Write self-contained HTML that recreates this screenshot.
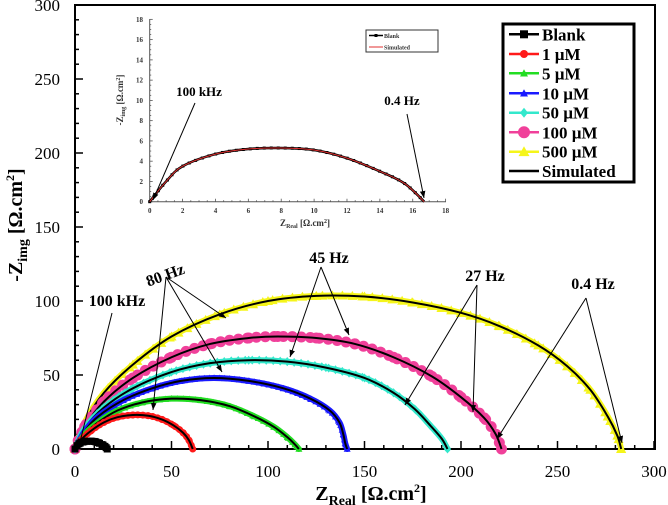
<!DOCTYPE html>
<html><head><meta charset="utf-8"><style>
html,body{margin:0;padding:0;background:#fff}
svg{display:block;font-family:"Liberation Serif",serif}
</style></head><body>
<svg id="chart" width="668" height="505" viewBox="0 0 668 505" xmlns="http://www.w3.org/2000/svg">
<rect x="0" y="0" width="668" height="505" fill="#fff"/>
<g id="plot"></g>
</svg>
<script>
const seriesNames = ["Blank","1 µM","5 µM","10 µM","50 µM","100 µM","500 µM"];
const seriesColors = ["#000000","#ff1a1a","#22dd22","#1a1aff","#33e8cc","#f0409a","#f5f51a"];
const blankData = [[0,0],[1,2],[2,3.5],[4,4.7],[6,5.2],[8,5.3],[10,5.1],[12,4.3],[14,3],[15.5,1.8],[16.7,0]];
const data1uM = [[0,0],[3,6],[8,12],[15,18],[22,21.5],[30,23],[38,22.5],[45,20],[51,16],[56,11],[59,6],[61,0]];
const data5uM = [[0,0],[5,10],[12,18],[22,26],[35,31.5],[50,34],[65,33],[80,29],[93,22],[103,15],[110,8],[114,3],[116,0]];
const data10uM = [[0,0],[5,12],[12,22],[25,33],[40,41],[55,46],[72,48],[90,46],[108,41],[122,34],[132,26],[137,18],[139,10],[140,4],[141,0]];
const data50uM = [[0,0],[5,14],[15,28],[30,41],[50,52],[70,58],[90,60],[110,59],[130,55],[150,48],[165,38],[176,27],[184,16],[190,7],[193,0]];
const data100uM = [[0,0],[5,15],[15,32],[30,48],[50,62],[70,71],[90,75],[105,76],[125,75],[145,71],[165,62],[185,49],[200,35],[212,21],[218,10],[221,0]];
const data500uM = [[0,0],[5,18],[15,38],[30,57],[50,76],[75,91],[100,100],[125,103.5],[150,103],[175,99],[200,92],[220,83],[240,70],[255,56],[267,40],[276,22],[281,9],[283,0]];
const xTicks = [0,50,100,150,200,250,300];
const yTicks = [0,50,100,150,200,250,300];
const insetTicks = [0,2,4,6,8,10,12,14,16,18];

const NS="http://www.w3.org/2000/svg";
const root=document.getElementById('plot');
function mk(tag,attrs,parent){const e=document.createElementNS(NS,tag);for(const k in attrs)e.setAttribute(k,attrs[k]);(parent||root).appendChild(e);return e;}
const X=v=>75+v*1.93;
const Y=v=>449-v*1.48;
const IX=v=>149.7+v*16.44;
const IY=v=>201.7-v*10.13;
function smooth(pts,fx,fy){
  const p=pts.map(d=>[fx(d[0]),fy(d[1])]);
  let s="M"+p[0][0]+","+p[0][1];
  for(let i=0;i<p.length-1;i++){
    const p0=p[Math.max(0,i-1)],p1=p[i],p2=p[i+1],p3=p[Math.min(p.length-1,i+2)];
    const c1=[p1[0]+(p2[0]-p0[0])/6,p1[1]+(p2[1]-p0[1])/6];
    const c2=[p2[0]-(p3[0]-p1[0])/6,p2[1]-(p3[1]-p1[1])/6];
    s+=" C"+c1+" "+c2+" "+p2;
  }
  return s;
}
function marker(shape,x,y,color,r,parent){
  let e;
  if(shape==="square")e=mk('rect',{x:x-r,y:y-r,width:2*r,height:2*r,fill:color},parent);
  else if(shape==="circle")e=mk('circle',{cx:x,cy:y,r:r,fill:color},parent);
  else if(shape==="triangle")e=mk('polygon',{points:`${x},${y-r} ${x-r},${y+r*0.8} ${x+r},${y+r*0.8}`,fill:color},parent);
  else e=mk('polygon',{points:`${x},${y-r} ${x+r*0.8},${y} ${x},${y+r} ${x-r*0.8},${y}`,fill:color},parent);
  return e;
}

// axes frame
const frame=mk('rect',{x:75,y:5,width:580,height:444,fill:"none",stroke:"#000","stroke-width":2});


for(let v=0;v<=300;v+=10){
  const major=v%50===0;
  const tx=mk('line',{x1:X(v),y1:449,x2:X(v),y2:449-(major?8:4),stroke:"#000","stroke-width":1.5});
  
  
  const ty=mk('line',{x1:75,y1:Y(v),x2:75+(major?8:4),y2:Y(v),stroke:"#000","stroke-width":1.5});
  
  
}
xTicks.forEach(v=>{
  const t=mk('text',{x:X(v),y:477,"text-anchor":"middle","font-size":17});
  t.textContent=v;
  
  
});
yTicks.forEach(v=>{
  const t=mk('text',{x:60,y:Y(v)+6,"text-anchor":"end","font-size":17});
  t.textContent=v;
  
  
});
const xt=mk('text',{x:371,y:500,"text-anchor":"middle","font-size":20,"font-weight":"bold"});
xt.innerHTML='Z<tspan font-size="14" dy="5">Real</tspan><tspan dy="-5"> [Ω.cm</tspan><tspan font-size="12" dy="-8">2</tspan><tspan dy="8">]</tspan>';


const yt=mk('text',{x:0,y:0,"text-anchor":"middle","font-size":20,"font-weight":"bold",transform:"translate(22,225) rotate(-90)"});
yt.innerHTML='-Z<tspan font-size="14" dy="5">img</tspan><tspan dy="-5"> [Ω.cm</tspan><tspan font-size="12" dy="-8">2</tspan><tspan dy="8">]</tspan>';



// series
const allData=[blankData,data1uM,data5uM,data10uM,data50uM,data100uM,data500uM];
const shapes=["square","circle","triangle","triangle","diamond","circle","triangle"];
const sizes=[3.5,3.5,3.5,3.5,4.5,5.5,5];
const spacing=[4,5,6,5,7,9,10];
for(let i=allData.length-1;i>=0;i--){
  const g=mk('g',{});
  
  
  const band=mk('path',{d:smooth(allData[i],X,Y),fill:"none",stroke:seriesColors[i],"stroke-width":6,"stroke-linecap":"round"},g);
  
  
  const len=band.getTotalLength();
  for(let s=0;s<=len;s+=spacing[i]){
    const pt=band.getPointAtLength(s);
    const m=marker(shapes[i],pt.x,pt.y,seriesColors[i],sizes[i],g);
    
    
  }
  allData[i].forEach(d=>{
    const m=marker(shapes[i],X(d[0]),Y(d[1]),seriesColors[i],sizes[i],g);
    
    
  });
  const fit=mk('path',{d:smooth(allData[i],X,Y),fill:"none",stroke:"#000","stroke-width":2},g);
  
  
}

mk('defs',{}).innerHTML='<marker id="ah" viewBox="0 0 10 10" refX="10" refY="5" markerWidth="7" markerHeight="7" orient="auto-start-reverse"><path d="M0,1 L10,5 L0,9 z" fill="#000"/></marker>';
function annot(label,tx,ty,rot,fs,arrows,name){
  const t=mk('text',{x:tx,y:ty,"text-anchor":"middle","font-size":fs,"font-weight":"bold",transform:rot?`rotate(${rot} ${tx} ${ty})`:""});
  t.textContent=label;
  
  
  arrows.forEach(a=>{
    const l=mk('line',{x1:a[0],y1:a[1],x2:a[2],y2:a[3],stroke:"#000","stroke-width":1,"marker-end":"url(#ah)"});
    
    
  });
}
annot("100 kHz",117,306,0,16,[[112,313,79,446]],"label-100khz");
annot("80 Hz",167,280,-20,16,[[166,277,226,318],[166,277,222,372],[166,277,153,410]],"label-80hz");
annot("45 Hz",329,263,0,16,[[321,267,349,335],[321,267,290,357]],"label-45hz");
annot("27 Hz",485,281,0,16,[[477,285,405,405],[477,285,473,412]],"label-27hz");
annot("0.4 Hz",593,289,0,16,[[586,298,497,439],[586,298,622,443]],"label-04hz");

// legend
const lg=mk('g',{});


mk('rect',{x:503,y:24,width:131,height:158,fill:"#fff",stroke:"#000","stroke-width":3},lg);
const legY=[34.3,54,73.3,93.3,112.7,132.3,151.7,171];
seriesNames.concat(["Simulated"]).forEach((n,i)=>{
  const e=mk('g',{},lg);
  
  
  const c=i<7?seriesColors[i]:"#000";
  mk('line',{x1:509,y1:legY[i],x2:539,y2:legY[i],stroke:c,"stroke-width":2.5},e);
  if(i<7)marker(shapes[i],524,legY[i],c,sizes[i]+0.5,e);
  const t=mk('text',{x:542,y:legY[i]+6,"font-size":17,"font-weight":"bold"},e);
  t.textContent=n;
});

// inset
const ig=mk('g',{});


mk('line',{x1:149.7,y1:19,x2:149.7,y2:201.7,stroke:"#555","stroke-width":1},ig);
mk('line',{x1:149.7,y1:201.7,x2:446,y2:201.7,stroke:"#555","stroke-width":1},ig);
for(let v=0;v<=18;v+=0.5){
  const major=v%2===0;
  mk('line',{x1:IX(v),y1:201.7,x2:IX(v),y2:201.7-(major?3:1.5),stroke:"#555","stroke-width":0.8},ig);
  mk('line',{x1:149.7,y1:IY(v),x2:149.7+(major?3:1.5),y2:IY(v),stroke:"#555","stroke-width":0.8},ig);
}
insetTicks.forEach(v=>{
  const a=mk('text',{x:IX(v),y:213,"text-anchor":"middle","font-size":7,"font-weight":"bold",fill:"#333"},ig);
  a.textContent=v;
  
  
  const b=mk('text',{x:143,y:IY(v)+2.5,"text-anchor":"end","font-size":7,"font-weight":"bold",fill:"#333"},ig);
  b.textContent=v;
  
  
});
const ixt=mk('text',{x:305,y:226,"text-anchor":"middle","font-size":9,"font-weight":"bold",fill:"#333"},ig);
ixt.innerHTML='Z<tspan font-size="6" dy="2">Real</tspan><tspan dy="-2"> [Ω.cm</tspan><tspan font-size="6" dy="-3">2</tspan><tspan dy="3">]</tspan>';


const iyt=mk('text',{x:0,y:0,"text-anchor":"middle","font-size":9,"font-weight":"bold",fill:"#333",transform:"translate(123,100) rotate(-90)"},ig);
iyt.innerHTML='-Z<tspan font-size="6" dy="2">img</tspan><tspan dy="-2"> [Ω.cm</tspan><tspan font-size="6" dy="-3">2</tspan><tspan dy="3">]</tspan>';


const ib=mk('path',{d:smooth(blankData,IX,IY),fill:"none",stroke:"#000","stroke-width":2.5},ig);


const ibLen=ib.getTotalLength();
for(let s=0;s<=ibLen;s+=7){
  const pt=ib.getPointAtLength(s);
  const m=marker("square",pt.x,pt.y,"#000",1.5,ig);
  
  
}
const isim=mk('path',{d:smooth(blankData,IX,IY),fill:"none",stroke:"#e03030","stroke-width":1},ig);


const il=mk('g',{},ig);


mk('rect',{x:366,y:30,width:72,height:22,fill:"#fff",stroke:"#333","stroke-width":1},il);
mk('line',{x1:369,y1:35.5,x2:383,y2:35.5,stroke:"#000","stroke-width":1.5},il);
mk('rect',{x:374.5,y:34,width:3,height:3,fill:"#000"},il);
mk('line',{x1:369,y1:47,x2:383,y2:47,stroke:"#e03030","stroke-width":1},il);
const l1=mk('text',{x:384,y:38,"font-size":6,"font-weight":"bold",fill:"#333"},il);l1.textContent="Blank";
const l2=mk('text',{x:384,y:49.5,"font-size":6,"font-weight":"bold",fill:"#333"},il);l2.textContent="Simulated";
annot("100 kHz",199,96,0,13,[[195,103,153,200]],"inset-label-100khz");
annot("0.4 Hz",402,105,0,13,[[407,114,424,198]],"inset-label-04hz");
</script>
</body></html>
